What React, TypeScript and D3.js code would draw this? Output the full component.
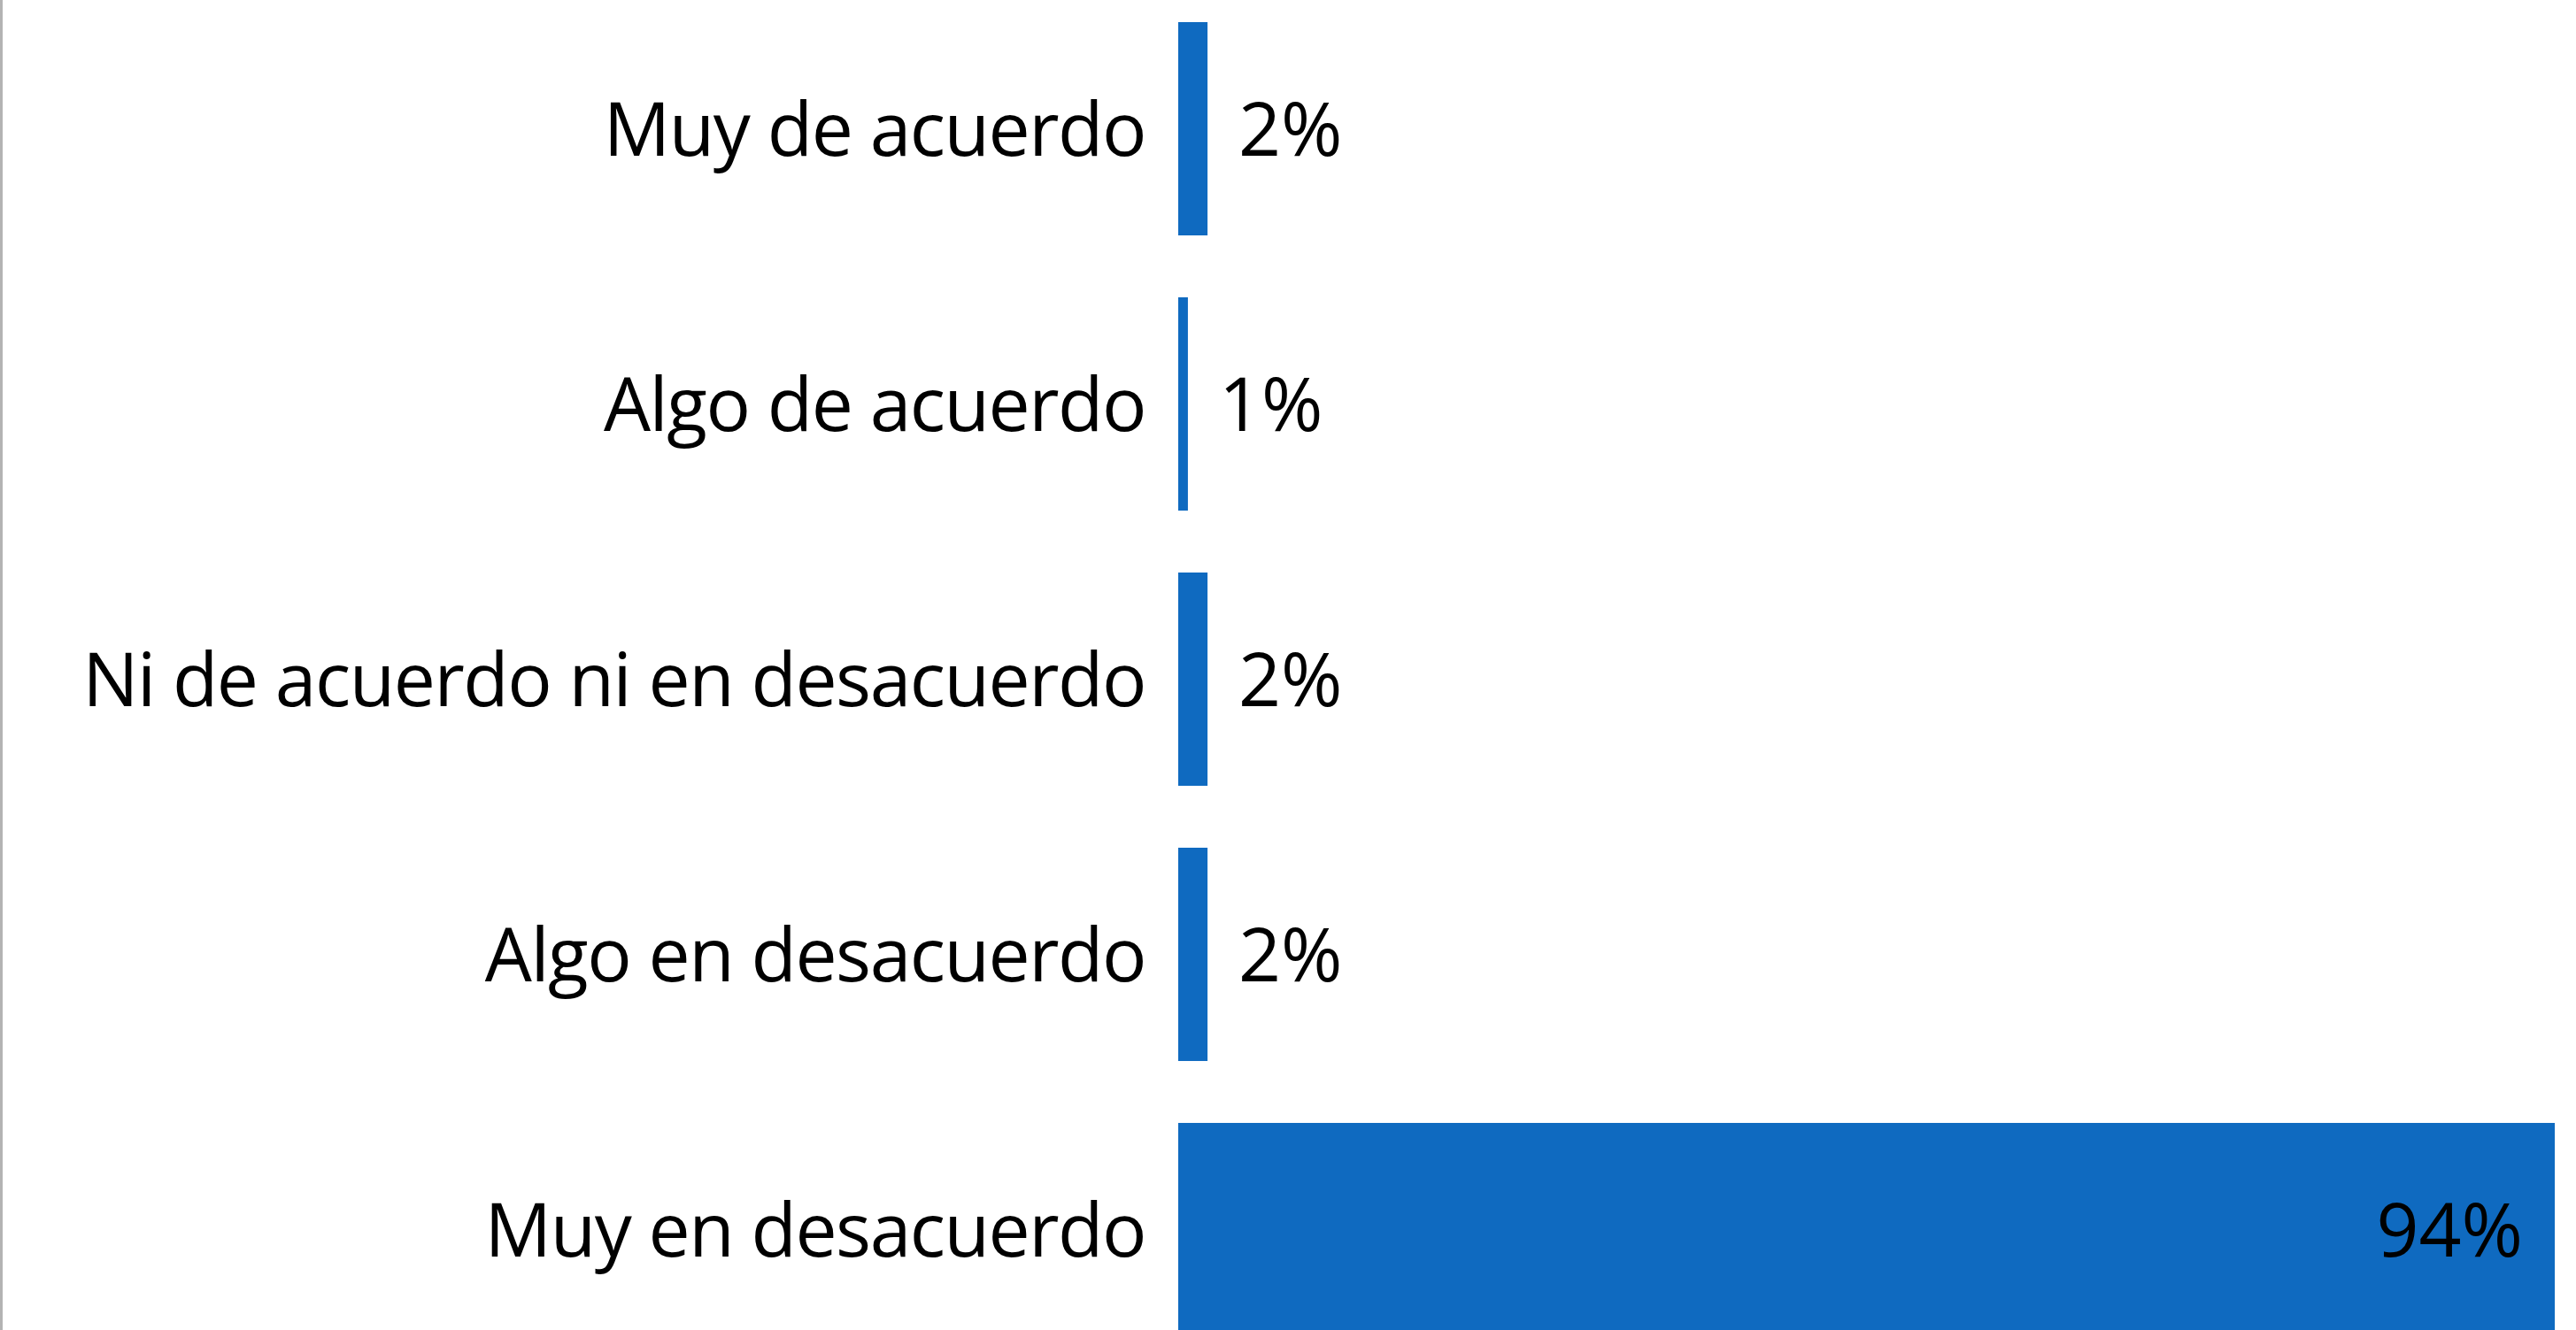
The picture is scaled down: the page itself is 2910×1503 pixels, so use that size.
import React from "react";
import * as d3 from "d3";

const categories = [
  "Muy de acuerdo",
  "Algo de acuerdo",
  "Ni de acuerdo ni en desacuerdo",
  "Algo en desacuerdo",
  "Muy en desacuerdo",
];
const values = [2.0, 0.66, 2.0, 2.0, 94.0];
const valueLabels = ["2%", "1%", "2%", "2%", "94%"];

const W = 2910;
const H = 1503;
const BAR = "#0f6ac0";
const FONT = "'Open Sans', 'Noto Sans', sans-serif";
const FS = 84;

export default function App() {
  const x = d3.scaleLinear().domain([0, 94]).range([1331, 2886]);
  const y = d3
    .scaleBand<string>()
    .domain(categories)
    .range([-10, 1545])
    .paddingInner(0.225)
    .paddingOuter(0.1125);

  return (
    <svg
      width={W}
      height={H}
      style={{ position: "absolute", left: 0, top: 0, display: "block", background: "#fff" }}
      fontFamily={FONT}
    >
      <rect x={0} y={0} width={W} height={H} fill="#fff" />
      <line x1={1.5} x2={1.5} y1={0} y2={H} stroke="#b3b3b3" strokeWidth={3} />
      {categories.map((c, i) => {
        const y0 = y(c)!;
        const bw = y.bandwidth();
        const cy = y0 + bw / 2;
        const xEnd = x(values[i]);
        const inside = values[i] > 50;
        return (
          <g key={c}>
            <rect x={x(0)} y={y0} width={xEnd - x(0)} height={bw} fill={BAR} />
            <text
              x={x(0) - 37}
              y={cy}
              dy="0.36em"
              textAnchor="end"
              fontSize={FS}
              letterSpacing={-1.5}
              fill="#000"
            >
              {c}
            </text>
            <text
              x={inside ? xEnd - 36 : xEnd + 35}
              y={cy}
              dy="0.36em"
              textAnchor={inside ? "end" : "start"}
              fontSize={FS}
              fill="#000"
            >
              {valueLabels[i]}
            </text>
          </g>
        );
      })}
    </svg>
  );
}
